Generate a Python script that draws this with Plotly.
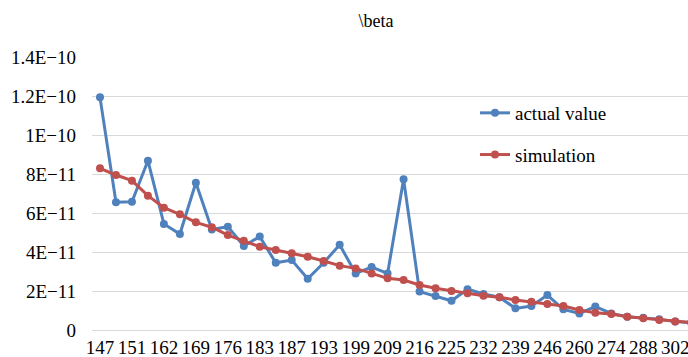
import plotly.graph_objects as go

categories = ["147", "149", "151", "156", "162", "165", "169", "172", "176", "180",
              "183", "185", "187", "190", "193", "196", "199", "204", "209", "212",
              "216", "220", "225", "228", "232", "235", "239", "242", "246", "253",
              "260", "267", "274", "281", "288", "295", "302", "309"]

actual_value = [11.93, 6.55, 6.58, 8.68, 5.44, 4.92, 7.55, 5.15, 5.30, 4.31,
                4.79, 3.45, 3.59, 2.63, 3.45, 4.37, 2.90, 3.23, 2.90, 7.73,
                1.97, 1.74, 1.50, 2.09, 1.85, 1.68, 1.11, 1.23, 1.79, 1.06,
                0.85, 1.20, 0.85, 0.68, 0.63, 0.55, 0.43, 0.38]
simulation = [8.29, 7.95, 7.66, 6.89, 6.27, 5.93, 5.52, 5.27, 4.87, 4.58,
              4.27, 4.10, 3.93, 3.76, 3.54, 3.30, 3.16, 2.90, 2.65, 2.56,
              2.31, 2.14, 2.00, 1.88, 1.76, 1.68, 1.54, 1.45, 1.33, 1.23,
              1.03, 0.89, 0.82, 0.68, 0.60, 0.51, 0.43, 0.38]
scale = 1e-11

tick_labels_x = categories[:37:2]
y_tickvals = [0, 2e-11, 4e-11, 6e-11, 8e-11, 1e-10, 1.2e-10, 1.4e-10]
y_ticktext = ["0", "2E\u221211", "4E\u221211", "6E\u221211", "8E\u221211",
              "1E\u221210", "1.2E\u221210", "1.4E\u221210"]

FONT = "Times New Roman, Liberation Serif, DejaVu Serif, serif"
BLUE = "#4F81BD"
RED = "#C0504D"

fig = go.Figure()
fig.add_trace(go.Scatter(
    x=categories, y=[v * scale for v in actual_value], name="actual value",
    mode="lines+markers", line=dict(color=BLUE, width=3),
    marker=dict(color=BLUE, size=8), legendgroup="a", cliponaxis=True))
fig.add_trace(go.Scatter(
    x=categories, y=[v * scale for v in simulation], name="simulation",
    mode="lines+markers", line=dict(color=RED, width=3),
    marker=dict(color=RED, size=8), legendgroup="b", cliponaxis=True))

fig.update_layout(
    width=688, height=357,
    margin=dict(l=92, r=0, t=57, b=27, autoexpand=False),
    paper_bgcolor="white", plot_bgcolor="white",
    font=dict(family=FONT, size=19, color="#000000"),
    title=dict(text="\\beta", x=376 / 688, xanchor="center", xref="container",
               y=1 - 21 / 357, yanchor="middle", yref="container",
               font=dict(family=FONT, size=18, color="#000000")),
    showlegend=True,
    legend=dict(x=(475 - 92) / 596, xanchor="left", y=1 - (94 - 57) / 273,
                yanchor="top", bgcolor="rgba(0,0,0,0)",
                font=dict(family=FONT, size=19, color="#000000"),
                traceorder="grouped", tracegroupgap=14, itemwidth=30),
    xaxis=dict(type="category", categoryorder="array", categoryarray=categories,
               range=[-0.5, 36.8], tickmode="array", tickvals=tick_labels_x,
               ticktext=tick_labels_x, showgrid=False, showline=True,
               linecolor="#d9d9d9", linewidth=1, ticks="",
               ticklabelstandoff=0, automargin=False,
               tickfont=dict(family=FONT, size=19, color="#000000")),
    yaxis=dict(range=[0, 1.4e-10], tickmode="array", tickvals=y_tickvals,
               ticktext=y_ticktext, showgrid=True, gridcolor="#d9d9d9",
               gridwidth=1, zeroline=False, showline=False, ticks="",
               ticklabelstandoff=15, automargin=False,
               tickfont=dict(family=FONT, size=19, color="#000000")),
)

fig.write_html("out.html")
